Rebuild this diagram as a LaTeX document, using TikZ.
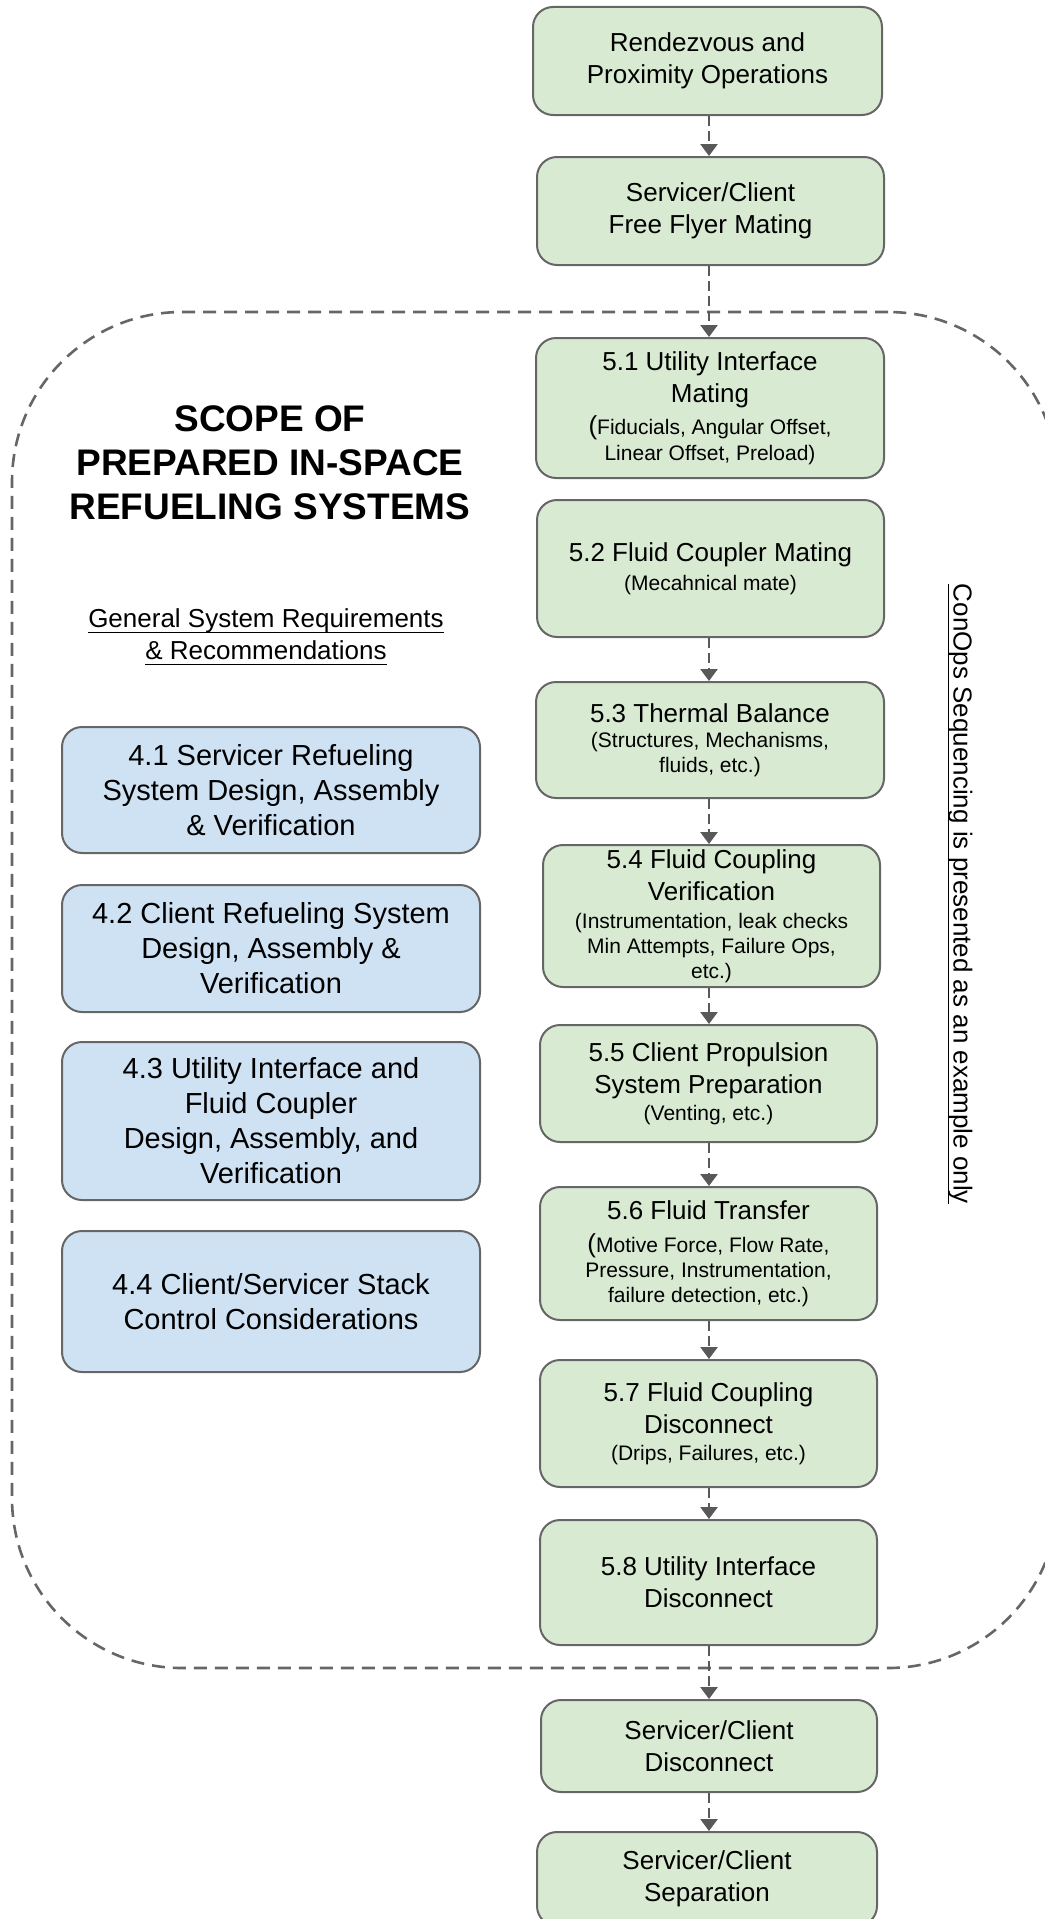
\documentclass[tikz,border=0pt]{standalone}
\usepackage{fontspec}
\setmainfont{Liberation Sans}
\usetikzlibrary{arrows.meta}
\definecolor{gfill}{HTML}{D9EAD3}
\definecolor{bfill}{HTML}{CFE2F3}
\definecolor{edgegray}{HTML}{666666}
\definecolor{dashgray}{HTML}{666666}
\definecolor{arrgray}{HTML}{595959}
\newsavebox\myulbox
\newcommand\ulx[2][-5pt]{\sbox\myulbox{#2}\rlap{\rule[#1]{\wd\myulbox}{1.4pt}}\usebox\myulbox}
\newcommand\gtitlefont{\fontsize{26}{32}\selectfont}
\newcommand\gsubfont{\fontsize{21}{25}\selectfont}
\tikzset{
  gbox/.style={draw=edgegray, line width=2pt, fill=gfill, rounded corners=20pt,
    align=center, inner sep=0pt, font=\gtitlefont},
  bbox/.style={draw=edgegray, line width=2pt, fill=bfill, rounded corners=20pt,
    align=center, inner sep=0pt, minimum width=418pt, font=\fontsize{29}{35}\selectfont},
  arr/.style={draw=arrgray, line width=2.6pt, dash pattern=on 10pt off 5pt,
    -{Triangle[width=17pt,length=12pt]}},
  scopebox/.style={draw=dashgray, line width=2.6pt, dash pattern=on 13pt off 8pt,
    rounded corners=170pt, inner sep=0pt}
}
\begin{document}
\begin{tikzpicture}[x=1pt,y=-1pt]
\useasboundingbox (0,0) rectangle (1044,1919);

% scope boundary
\node[scopebox, minimum width=1046pt, minimum height=1356pt] (scope) at (535,990) {};

% left column
\node[font=\bfseries\fontsize{37}{44}\selectfont, align=center] (title) at (270,463)
  {SCOPE OF\\PREPARED IN-SPACE\\REFUELING SYSTEMS};
\node[font=\fontsize{26}{32}\selectfont, align=center] (gen) at (266,637)
  {\ulx{General System Requirements}\\\ulx{\& Recommendations}};

\node[bbox, minimum height=126pt] (b41) at (271,790)
  {4.1 Servicer Refueling\\System Design, Assembly\\\& Verification};
\node[bbox, minimum height=127pt] (b42) at (271,948.5)
  {4.2 Client Refueling System\\Design, Assembly \&\\Verification};
\node[bbox, minimum height=158pt] (b43) at (271,1121)
  {4.3 Utility Interface and\\Fluid Coupler\\Design, Assembly, and\\Verification};
\node[bbox, minimum height=141pt] (b44) at (271,1301.5)
  {4.4 Client/Servicer Stack\\Control Considerations};

% right column
\node[gbox, minimum width=349pt, minimum height=108pt] (rpo) at (707.5,61)
  {Rendezvous and\\Proximity Operations};
\node[gbox, minimum width=347pt, minimum height=108pt] (ffm) at (710.5,211)
  {Servicer/Client\\Free Flyer Mating};
\node[gbox, minimum width=348pt, minimum height=140pt] (s51) at (710,408)
  {5.1 Utility Interface\\Mating\\{\gsubfont{\gtitlefont(}Fiducials, Angular Offset,}\\[-6pt]{\gsubfont Linear Offset, Preload)}};
\node[gbox, minimum width=347pt, minimum height=137pt] (s52) at (710.5,568.5)
  {5.2 Fluid Coupler Mating\\[-3pt]{\gsubfont (Mecahnical mate)}};
\node[gbox, minimum width=348pt, minimum height=116pt] (s53) at (710,740)
  {5.3 Thermal Balance\\[-7pt]{\gsubfont (Structures, Mechanisms,}\\[-7pt]{\gsubfont fluids, etc.)}};
\node[gbox, minimum width=337pt, minimum height=142pt] (s54) at (711.5,916)
  {5.4 Fluid Coupling\\Verification\\[-4pt]{\gsubfont (Instrumentation, leak checks}\\[-7pt]{\gsubfont Min Attempts, Failure Ops,}\\[-7pt]{\gsubfont etc.)}};
\node[gbox, minimum width=337pt, minimum height=117pt] (s55) at (708.5,1083.5)
  {5.5 Client Propulsion\\System Preparation\\[-5pt]{\gsubfont (Venting, etc.)}};
\node[gbox, minimum width=337pt, minimum height=133pt] (s56) at (708.5,1253.5)
  {5.6 Fluid Transfer\\[1pt]{\gsubfont{\gtitlefont(}Motive Force, Flow Rate,}\\[-7pt]{\gsubfont Pressure, Instrumentation,}\\[-7pt]{\gsubfont failure detection, etc.)}};
\node[gbox, minimum width=337pt, minimum height=127pt] (s57) at (708.5,1423.5)
  {5.7 Fluid Coupling\\Disconnect\\[-5pt]{\gsubfont (Drips, Failures, etc.)}};
\node[gbox, minimum width=337pt, minimum height=125pt] (s58) at (708.5,1582.5)
  {5.8 Utility Interface\\Disconnect};
\node[gbox, minimum width=336pt, minimum height=92pt] (scd) at (709,1746)
  {Servicer/Client\\Disconnect};
\node[gbox, minimum width=340pt, minimum height=94pt] (scs) at (707,1879)
  {Servicer/Client\\Separation};

% side note
\node[rotate=-90, font=\fontsize{26}{31}\selectfont, inner sep=0pt] (conops) at (960,894)
  {\ulx[-6pt]{ConOps Sequencing is presented as an example only}};

% connectors
\coordinate (ax) at (709,0);
\draw[arr] (rpo.south -| ax) -- (ffm.north -| ax);
\draw[arr] (ffm.south -| ax) -- (s51.north -| ax);
\draw[arr] (s52.south -| ax) -- (s53.north -| ax);
\draw[arr] (s53.south -| ax) -- (s54.north -| ax);
\draw[arr] (s54.south -| ax) -- (s55.north -| ax);
\draw[arr] (s55.south -| ax) -- (s56.north -| ax);
\draw[arr] (s56.south -| ax) -- (s57.north -| ax);
\draw[arr] (s57.south -| ax) -- (s58.north -| ax);
\draw[arr] (s58.south -| ax) -- (scd.north -| ax);
\draw[arr] (scd.south -| ax) -- (scs.north -| ax);
\end{tikzpicture}
\end{document}
